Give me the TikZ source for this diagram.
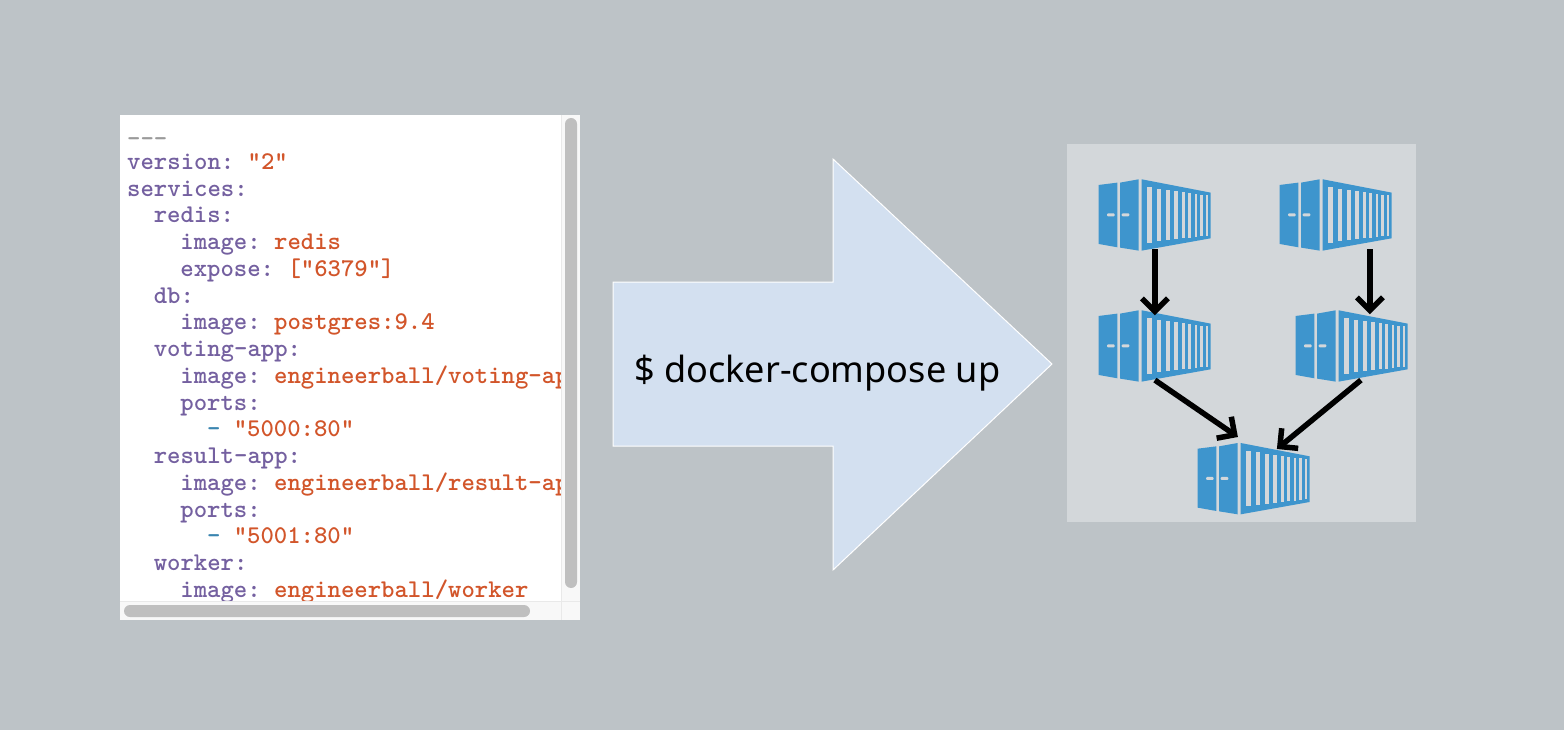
\documentclass[tikz,border=0pt]{standalone}
\usepackage{fontspec}
\setmainfont{Noto Sans}
\usepackage{xcolor}
\usetikzlibrary{arrows.meta, positioning}
\definecolor{slatebg}{HTML}{BDC3C7}
\definecolor{stackbg}{HTML}{D3D7DA}
\definecolor{arrowblue}{HTML}{D3E0F0}
\definecolor{cargoblue}{HTML}{3E95CD}
\definecolor{yamlpurple}{HTML}{7460A0}
\definecolor{yamlorange}{HTML}{D2552A}
\definecolor{yamlblue}{HTML}{3A85B0}
\definecolor{yamlgray}{HTML}{9A9A9A}
\definecolor{barthumb}{HTML}{BFBFBF}
\definecolor{bartrack}{HTML}{E9E9E9}
\definecolor{barpanel}{HTML}{F8F8F8}
\newcommand{\yamlkey}[1]{\textcolor{yamlpurple}{#1}}
\newcommand{\yamlval}[1]{\textcolor{yamlorange}{#1}}
\newcommand{\yamldash}{\textcolor{yamlblue}{-}}

\begin{document}
\frenchspacing
\begin{tikzpicture}[
    x=1pt, y=-1pt,
    codeline/.style={
      anchor=base west, inner sep=0pt,
      font=\ttfamily\bfseries\fontsize{25.5}{27}\selectfont},
    flow/.style={
      draw=black, line width=5.5pt,
      -{Straight Barb[length=13pt, width=26pt, line width=5.5pt]}},
    cargobox/.style={
      rectangle, inner sep=0pt, minimum width=112pt, minimum height=71.4pt},
    pics/cargo/.style={code={
      \node[cargobox, anchor=north west] (-box) at (0,0) {};
      \begin{scope}[x=0.3333pt, y=-0.3333pt]
        \fill[cargoblue] (0,17) -- (56,10) -- (56,204) -- (0,194) -- cycle;
        \fill[cargoblue] (64,10) -- (120,0) -- (120,214) -- (64,205) -- cycle;
        \fill[cargoblue] (129,0) -- (336,40) -- (336,177) -- (129,214) -- cycle;
        \foreach \xa/\xb/\ya/\yb in {146/159/24/190, 175/188/28/186,
            202/214/32/183, 227/238/36/180, 249/259/39/177,
            269/278/41/175, 288/296/44/173, 305/312/46/171, 321/328/48/169}
          \fill[stackbg] (\xa,\ya) rectangle (\xb,\yb);
        \fill[stackbg, rounded corners=1pt] (25,102) rectangle (48,111);
        \fill[stackbg, rounded corners=1pt] (69,102) rectangle (92,111);
      \end{scope}
    }}
  ]
  % page
  \fill[slatebg] (0,0) rectangle (1564,730);

  % yaml panel
  \fill[white] (120,115) rectangle (580,620);
  \begin{scope}
    \clip (120,115) rectangle (561,601);
    \foreach \lvl/\txt [count=\i] in {
        0/{\raisebox{-3.5pt}{\textcolor{yamlgray}{---}}},
        0/{\yamlkey{version:} \yamlval{"2"}},
        0/{\yamlkey{services:}},
        2/{\yamlkey{redis:}},
        4/{\yamlkey{image:} \yamlval{redis}},
        4/{\yamlkey{expose:} \yamlval{["6379"]}},
        2/{\yamlkey{db:}},
        4/{\yamlkey{image:} \yamlval{postgres:9.4}},
        2/{\yamlkey{voting-app:}},
        4/{\yamlkey{image:} \yamlval{engineerball/voting-ap}},
        4/{\yamlkey{ports:}},
        6/{\yamldash{} \yamlval{"5000:80"}},
        2/{\yamlkey{result-app:}},
        4/{\yamlkey{image:} \yamlval{engineerball/result-ap}},
        4/{\yamlkey{ports:}},
        6/{\yamldash{} \yamlval{"5001:80"}},
        2/{\yamlkey{worker:}},
        4/{\yamlkey{image:} \yamlval{engineerball/worker}}}
      \node[codeline] (line\i) at ({127+13.3*\lvl}, {142.7+26.75*(\i-1)}) {\txt};
  \end{scope}

  % scroll bars
  \fill[barpanel] (561,115) rectangle (580,620);
  \fill[barpanel] (120,601) rectangle (580,620);
  \draw[bartrack, line width=1pt] (561,115) -- (561,620);
  \draw[bartrack, line width=1pt] (120,601) -- (580,601);
  \fill[barthumb, rounded corners=6pt] (565,118) rectangle (577,588);
  \fill[barthumb, rounded corners=6pt] (124,605) rectangle (530,617);

  % big arrow
  \draw[white, fill=arrowblue, line width=1pt, line join=miter]
    (613,282) -- (833,282) -- (833,159) -- (1052,364) -- (833,570)
    -- (833,446) -- (613,446) -- cycle;
  \node[font=\fontsize{36.1}{40}\selectfont, inner sep=0pt, anchor=base west] (cmd)
    at (634,382) {\$ docker-compose up};

  % containers
  \fill[stackbg] (1067,144) rectangle (1416,522);
  \pic (web) at (1098.7,179.3) {cargo};
  \pic (api) at (1279.7,179.3) {cargo};
  \pic (cache) at (1098.7,310.3) {cargo};
  \pic (queue) at (1295.7,310.3) {cargo};
  \pic (store) at (1197.7,443) {cargo};

  \draw[flow] ([yshift=2pt]web-box.south) -- ([yshift=-5pt]cache-box.north);
  \draw[flow] ([xshift=34pt, yshift=2pt]api-box.south)
    -- ([xshift=18pt, yshift=-4pt]queue-box.north);
  \draw[flow] ([yshift=2pt]cache-box.south)
    -- ([xshift=-16pt, yshift=6pt]store-box.north);
  \draw[flow] ([xshift=9pt, yshift=2pt]queue-box.south)
    -- ([xshift=23pt, yshift=-6pt]store-box.north);
\end{tikzpicture}
\end{document}
